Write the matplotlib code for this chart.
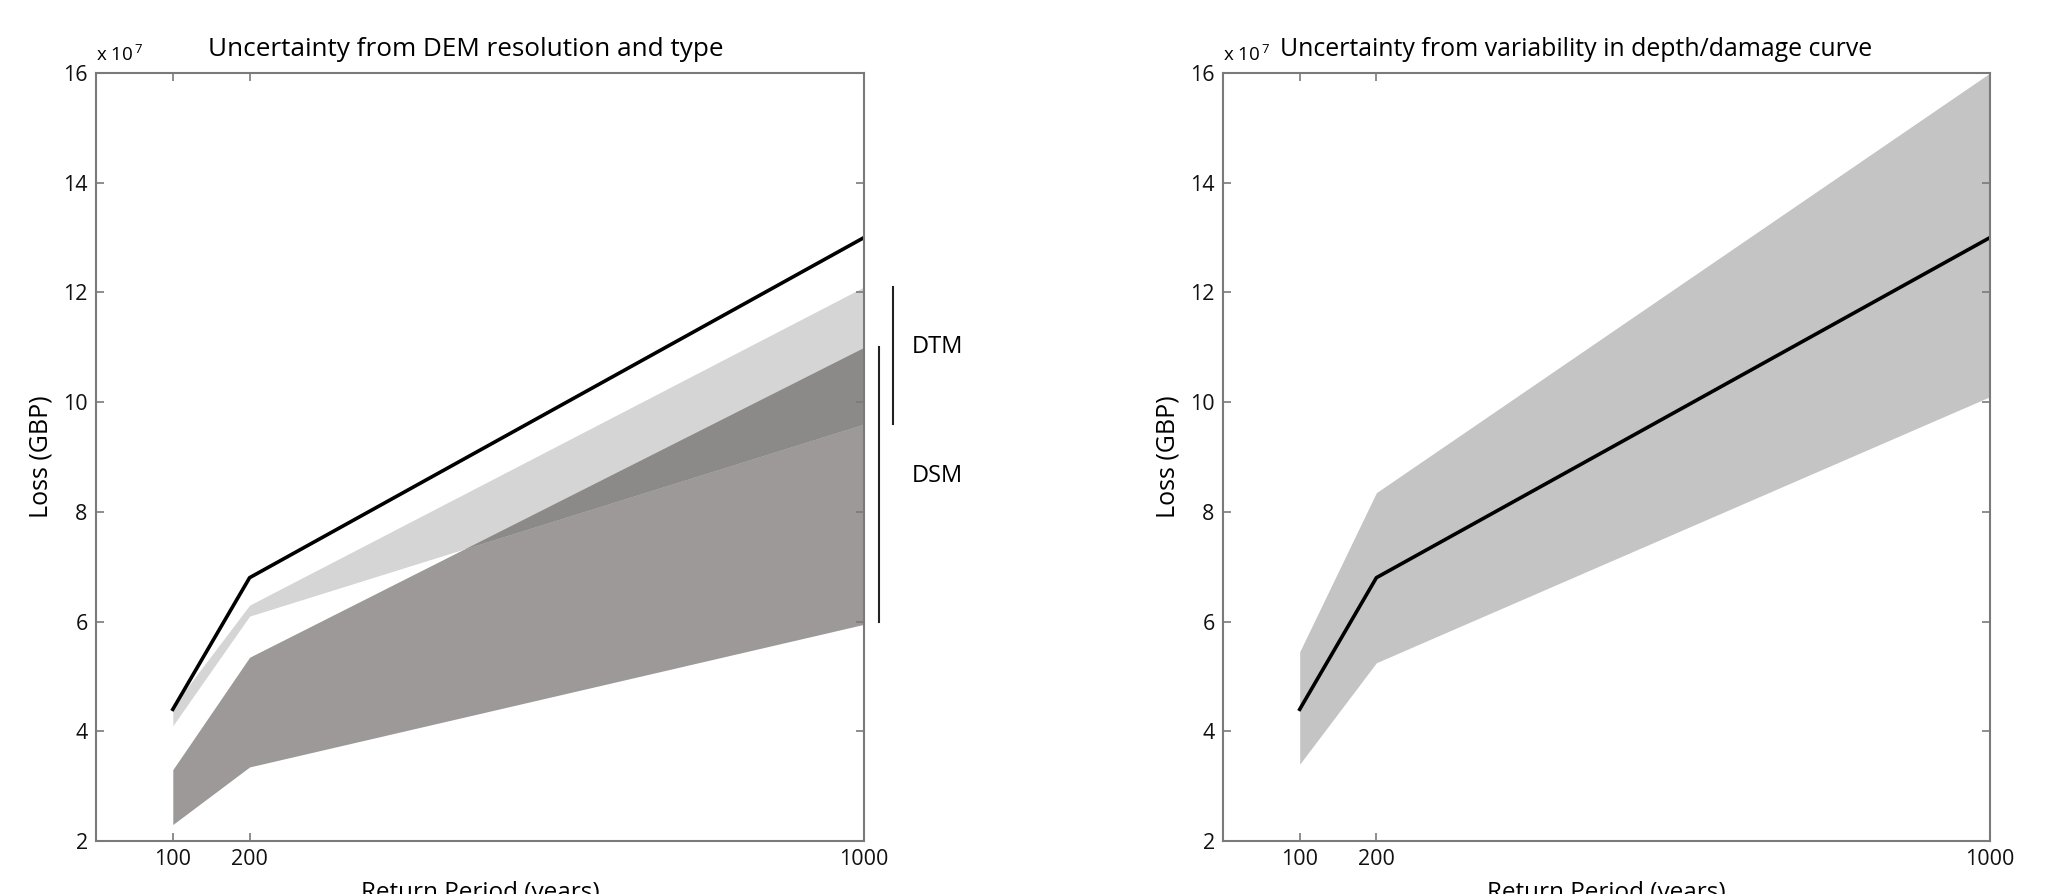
import numpy as np
import matplotlib
matplotlib.use("Agg")
import matplotlib.pyplot as plt

plt.rcParams['font.family'] = ['Open Sans', 'DejaVu Sans']
plt.rcParams['mathtext.fontset'] = 'custom'
plt.rcParams['mathtext.rm'] = 'Open Sans'

# return periods (years) and losses in units of 1e7 GBP
periods = [100, 200, 1000]
best_loss = [4.4, 6.8, 13.0]

# left panel: DEM resolution / type bands
dtm_low = [4.1, 6.1, 9.6]
dtm_high = [4.45, 6.3, 12.1]
dsm_low = [2.3, 3.35, 5.95]
dsm_high = [3.3, 5.35, 11.0]

# right panel: depth/damage curve band
curve_low = [3.4, 5.25, 10.1]
curve_high = [5.45, 8.35, 16.0]

x_ticks = [100, 200, 1000]
y_ticks = [2, 4, 6, 8, 10, 12, 14, 16]

spine_col = "#7a7a7a"


def style_axes(ax, title, title_x, title_size):
    ax.set_xlim(0, 1000)
    ax.set_ylim(2, 16)
    ax.set_xticks(x_ticks)
    ax.set_yticks(y_ticks)
    ax.tick_params(direction="in", length=6, width=1.2, color=spine_col,
                   labelsize=15.5, pad=6, top=True, right=True,
                   labelcolor="#111111")
    for s in ax.spines.values():
        s.set_color(spine_col)
        s.set_linewidth(1.5)
    ax.set_xlabel("Return Period (years)", fontsize=17.5, labelpad=8)
    ax.set_ylabel("Loss (GBP)", fontsize=18, labelpad=7)
    ax.set_title(title, fontsize=title_size, x=title_x, pad=12)
    ax.text(0.0, 1.01, r"x 10$^{\,7}$", transform=ax.transAxes,
            fontsize=13.5, ha="left", va="bottom")


fig = plt.figure(figsize=(20.5, 8.94), dpi=100)
ax1 = fig.add_axes([96 / 2050, 53 / 894, 768 / 2050, 768 / 894])
ax2 = fig.add_axes([1223 / 2050, 53 / 894, 767 / 2050, 768 / 894])

# left panel
x = np.array(periods)
ax1.fill_between(x, dsm_low, dsm_high, color="#9c9998", lw=0)
ax1.fill_between(x, dtm_low, dtm_high, color="#d5d5d5", lw=0)
ov_low = np.maximum(dtm_low, dsm_low)
ov_high = np.minimum(dtm_high, dsm_high)
ax1.fill_between(x, ov_low, ov_high, where=ov_high > ov_low,
                 interpolate=True, color="#8b8a89", lw=0)
ax1.plot(periods, best_loss, color="black", lw=2.6)
style_axes(ax1, "Uncertainty from DEM resolution and type", 0.482, 18.8)

# DTM / DSM range brackets outside the axes
ax1.plot([1038, 1038], [dtm_low[-1], dtm_high[-1]], color="#222222",
         lw=1.5, clip_on=False)
ax1.plot([1020, 1020], [6.0, dsm_high[-1]], color="#222222",
         lw=1.5, clip_on=False)
ax1.text(1062, 11.0, "DTM", fontsize=17, va="center", ha="left")
ax1.text(1062, 8.65, "DSM", fontsize=17, va="center", ha="left")

# right panel
ax2.fill_between(x, curve_low, curve_high, color="#c4c4c4", lw=0)
ax2.plot(periods, best_loss, color="black", lw=2.6)
style_axes(ax2, "Uncertainty from variability in depth/damage curve",
           0.46, 17.9)

fig.savefig("out.png", dpi=100)
